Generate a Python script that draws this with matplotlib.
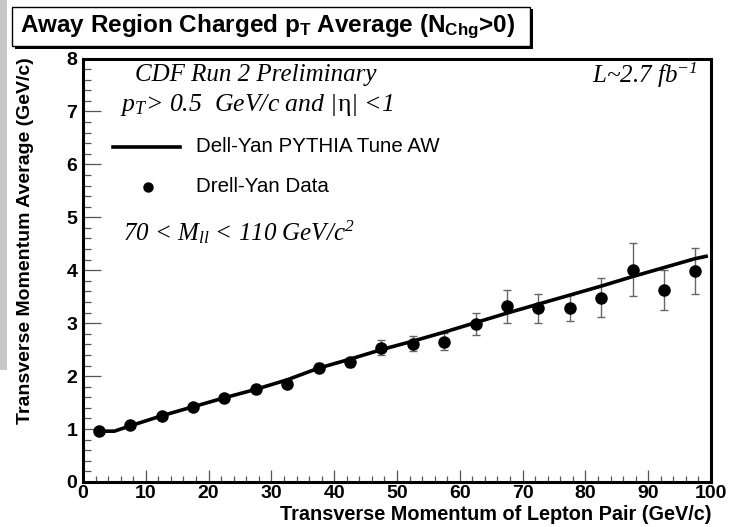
import matplotlib
matplotlib.use("Agg")
import matplotlib.pyplot as plt
from matplotlib.patches import Rectangle
from matplotlib.ticker import MultipleLocator

plt.rcParams['mathtext.fontset'] = 'custom'
plt.rcParams['mathtext.rm'] = 'Liberation Serif:italic'
plt.rcParams['mathtext.it'] = 'Liberation Serif:italic'
plt.rcParams['mathtext.bf'] = 'Liberation Sans:bold'
plt.rcParams['mathtext.sf'] = 'Liberation Serif'

# Data
data_x = [2.5, 7.5, 12.5, 17.5, 22.5, 27.5, 32.5, 37.5, 42.5, 47.5,
          52.5, 57.5, 62.5, 67.5, 72.5, 77.5, 82.5, 87.5, 92.5, 97.5]
data_y = [0.96, 1.08, 1.25, 1.42, 1.59, 1.75, 1.85, 2.16, 2.26, 2.54,
          2.61, 2.65, 2.99, 3.32, 3.28, 3.29, 3.48, 4.01, 3.62, 3.99]
data_err = [0.03, 0.03, 0.04, 0.05, 0.05, 0.06, 0.07, 0.08, 0.09, 0.14,
            0.14, 0.16, 0.21, 0.31, 0.28, 0.24, 0.37, 0.50, 0.38, 0.43]

model_x = [2.5, 5.0, 7.5, 12.5, 17.5, 22.5, 27.5, 32.5, 37.5, 42.5, 47.5,
           52.5, 57.5, 62.5, 67.5, 72.5, 77.5, 82.5, 87.5, 92.5, 97.5, 99.5]
model_y = [0.96, 0.96, 1.06, 1.25, 1.42, 1.59, 1.75, 1.93, 2.15, 2.32, 2.50,
           2.66, 2.83, 3.01, 3.19, 3.36, 3.53, 3.70, 3.88, 4.05, 4.22, 4.27]

W, H = 731, 527
fig = plt.figure(figsize=(W / 100, H / 100), dpi=100)
ax = fig.add_axes([83 / W, (H - 482) / H, 628 / W, 423.5 / H])

ax.plot(model_x, model_y, color='black', lw=2.6, zorder=3,
        solid_capstyle='butt')
ax.errorbar(data_x, data_y, yerr=data_err, fmt='none', ecolor='#666666',
            elinewidth=1.0, capsize=3, capthick=1.0, zorder=2)
ax.plot(data_x, data_y, 'o', color='black', ms=8, zorder=4)

ax.set_xlim(0, 100)
ax.set_ylim(0, 8)
ax.xaxis.set_major_locator(MultipleLocator(10))
ax.xaxis.set_minor_locator(MultipleLocator(2))
ax.yaxis.set_major_locator(MultipleLocator(1))
ax.yaxis.set_minor_locator(MultipleLocator(0.2))

for s in ax.spines.values():
    s.set_linewidth(2.2)
ax.tick_params(axis='x', which='major', direction='in', length=8.5, width=0.9,
               color='#555555', labelsize=14, pad=2)
ax.tick_params(axis='x', which='minor', direction='in', length=4.3, width=0.9,
               color='#555555')
ax.tick_params(axis='y', which='major', direction='in', length=13, width=0.9,
               color='#555555', labelsize=14, pad=4)
ax.tick_params(axis='y', which='minor', direction='in', length=6, width=0.9,
               color='#555555')
for lab in ax.get_xticklabels() + ax.get_yticklabels():
    lab.set_fontfamily('Liberation Sans')
    lab.set_fontweight('bold')

ax.set_xlabel('Transverse Momentum of Lepton Pair (GeV/c)', fontsize=14.3,
              fontfamily='Liberation Sans', fontweight='bold')
ax.xaxis.set_label_coords(1.0, -0.054)
ax.xaxis.label.set_horizontalalignment('right')
ax.set_ylabel('Transverse Momentum Average (GeV/c)', fontsize=14,
              fontfamily='Liberation Sans', fontweight='bold')
ax.yaxis.set_label_coords(-0.078, 0.569)

# Annotations
serif = dict(fontfamily='Liberation Serif', style='italic', color='black')
fig.text(135 / W, 1 - 75 / H, 'CDF Run 2 Preliminary', fontsize=18,
         va='center', ha='left', **serif)
fig.text(120 / W, 1 - 105 / H,
         r'p$_{T}$> 0.5  GeV/c and |$\mathsf{\eta}$| <1', fontsize=18.5,
         va='center', ha='left', **serif)
fig.text(123 / W, 1 - 232 / H, r'70 < M$_{ll}$ < 110 GeV/c$^{2}$',
         fontsize=18, va='center', ha='left', **serif)
fig.text(698 / W, 1 - 75 / H, r'L~2.7 fb$^{-1}$', fontsize=18,
         va='center', ha='right', **serif)

# Legend (hand placed)
fig.add_artist(plt.Line2D([113 / W, 180 / W], [1 - 147 / H, 1 - 147 / H],
                          color='black', lw=2.6, transform=fig.transFigure))
fig.add_artist(plt.Line2D([147.5 / W], [1 - 186.5 / H], marker='o',
                          color='black', ms=6.5, transform=fig.transFigure))
fig.text(196 / W, 1 - 147 / H, 'Dell-Yan PYTHIA Tune AW', fontsize=14.8,
         fontfamily='Liberation Sans', va='center', ha='left')
fig.text(196 / W, 1 - 186 / H, 'Drell-Yan Data', fontsize=14.8,
         fontfamily='Liberation Sans', va='center', ha='left')

# Left gray strip
fig.add_artist(Rectangle((0, 1 - 370 / H), 7 / W, 370 / H, facecolor='#c8c8c8',
                         edgecolor='none', transform=fig.transFigure))

# Title box with shadow
fig.add_artist(Rectangle((15 / W, 1 - 49 / H), 518 / W, 40 / H,
                         facecolor='black', edgecolor='none',
                         transform=fig.transFigure))
fig.add_artist(Rectangle((12 / W, 1 - 46 / H), 518 / W, 39 / H,
                         facecolor='white', edgecolor='black', lw=1.0,
                         transform=fig.transFigure))
fig.text(20 / W, 1 - 26 / H,
         r'Away Region Charged p$_{\mathbf{T}}$ Average (N$_{\mathbf{Chg}}$>0)',
         fontsize=17.5, fontfamily='Liberation Sans', fontweight='bold',
         va='center', ha='left')

fig.savefig('out.png', dpi=100)
